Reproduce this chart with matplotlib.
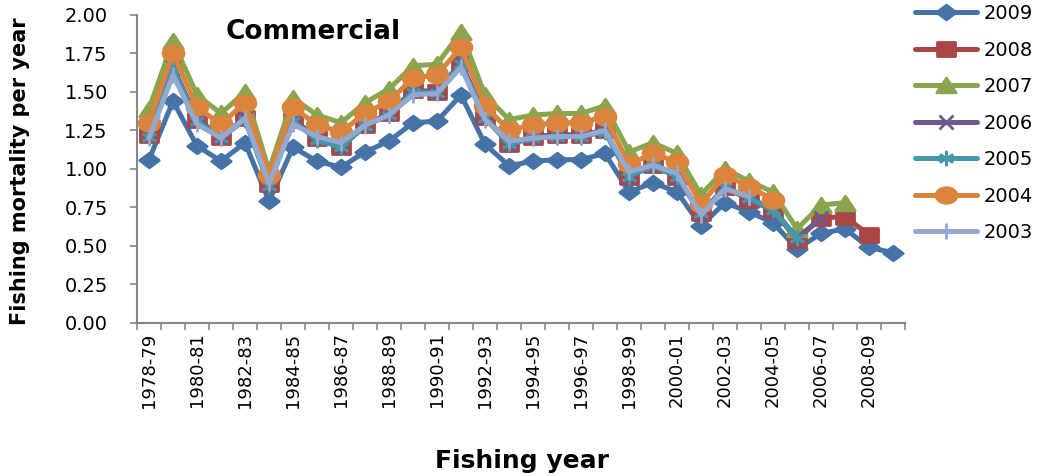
import numpy as np
import matplotlib
matplotlib.use('Agg')
import matplotlib.pyplot as plt
from matplotlib import font_manager
from matplotlib.path import Path

# 渔业年份
years = ['%d-%02d' % (y, (y + 1) % 100) for y in range(1978, 2010)]

# 各评估年份的捕捞死亡率
f_2009 = [1.06, 1.44, 1.15, 1.05, 1.17, 0.79, 1.14, 1.05, 1.01, 1.11, 1.18, 1.30, 1.31, 1.48, 1.16, 1.02,
          1.05, 1.06, 1.06, 1.10, 0.85, 0.91, 0.85, 0.63, 0.78, 0.72, 0.65, 0.48, 0.58, 0.61, 0.49, 0.455]
f_2008 = [1.22, 1.66, 1.32, 1.21, 1.33, 0.90, 1.32, 1.20, 1.14, 1.285, 1.36, 1.51, 1.50, 1.69, 1.34, 1.16,
          1.21, 1.22, 1.22, 1.25, 0.95, 1.025, 0.95, 0.71, 0.88, 0.80, 0.73, 0.54, 0.68, 0.69, 0.57]
f_2007 = [1.39, 1.83, 1.48, 1.36, 1.50, 0.99, 1.46, 1.35, 1.30, 1.43, 1.52, 1.67, 1.68, 1.89, 1.48, 1.32,
          1.35, 1.36, 1.36, 1.41, 1.11, 1.17, 1.10, 0.83, 1.00, 0.92, 0.85, 0.61, 0.765, 0.78]
f_2006 = [1.22, 1.66, 1.32, 1.21, 1.33, 0.90, 1.32, 1.20, 1.14, 1.285, 1.36, 1.51, 1.50, 1.69, 1.34, 1.16,
          1.21, 1.22, 1.22, 1.25, 0.95, 1.025, 0.95, 0.71, 0.88, 0.81, 0.74, 0.55, 0.68]
f_2005 = [1.21, 1.65, 1.31, 1.20, 1.32, 0.89, 1.31, 1.19, 1.14, 1.28, 1.35, 1.50, 1.49, 1.68, 1.33, 1.16,
          1.20, 1.21, 1.21, 1.24, 0.95, 1.02, 0.95, 0.71, 0.88, 0.81, 0.73, 0.55]
f_2004 = [1.30, 1.75, 1.40, 1.29, 1.43, 0.96, 1.40, 1.285, 1.24, 1.36, 1.44, 1.59, 1.61, 1.79, 1.41, 1.25,
          1.285, 1.30, 1.30, 1.34, 1.03, 1.10, 1.045, 0.77, 0.96, 0.885, 0.80]
f_2003 = [1.20, 1.61, 1.29, 1.20, 1.33, 0.905, 1.29, 1.21, 1.17, 1.285, 1.35, 1.48, 1.49, 1.66, 1.32, 1.18,
          1.20, 1.21, 1.21, 1.25, 0.98, 1.025, 0.97, 0.70, 0.87, 0.82]

# 压扁的标记（原图横向拉伸）
sq = 0.75
m_diamond = Path([(-1, 0), (0, sq), (1, 0), (0, -sq), (-1, 0)], closed=True)
m_square = Path([(-1, -sq), (1, -sq), (1, sq), (-1, sq), (-1, -sq)], closed=True)
m_tri = Path([(-1, -sq), (1, -sq), (0, sq), (-1, -sq)], closed=True)
uc = Path.unit_circle()
m_circle = Path(uc.vertices * [1, sq], uc.codes)

series = [
    ('2009', f_2009, '#4572A7', m_diamond, 14),
    ('2008', f_2008, '#AA4643', m_square, 13),
    ('2007', f_2007, '#89A54E', m_tri, 14),
    ('2006', f_2006, '#71588F', 'x', 10),
    ('2005', f_2005, '#4198AF', (6, 2, 0), 11),
    ('2004', f_2004, '#DB843D', m_circle, 15),
    ('2003', f_2003, '#93A9CF', '|', 11),
]

# 找窄体字体
names = {f.name for f in font_manager.fontManager.ttflist}
if 'Liberation Sans Narrow' in names:
    narrow = dict(family='Liberation Sans Narrow')
    xt_size, yl_size = 15, 17
else:
    narrow = dict(family='DejaVu Sans')
    xt_size, yl_size = 13, 15

fig = plt.figure(figsize=(10.41, 4.76), dpi=100)
ax = fig.add_axes([0.1316, 0.322, 0.7378, 0.6465])

for name, vals, col, mk, ms in series:
    x = np.arange(len(vals))
    ax.plot(x, vals, color=col, lw=3.6, marker=mk, ms=ms, mec=col, mfc=col, mew=2, label=name,
            solid_joinstyle='round', solid_capstyle='round')

ax.set_xlim(-0.5, len(years) - 0.5)
ax.set_ylim(0, 2.0)
ax.set_yticks(np.arange(0, 2.01, 0.25))
ax.set_yticklabels(['%.2f' % v for v in np.arange(0, 2.01, 0.25)], fontsize=14)

ax.set_xticks(np.arange(0, len(years), 2))
ax.set_xticklabels(years[::2], rotation=90, fontsize=xt_size, **narrow)
ax.set_xticks(np.arange(-0.5, len(years)), minor=True)
ax.tick_params(axis='x', which='major', length=0, pad=7)
ax.tick_params(axis='x', which='minor', length=5, color='#868686', width=1.2)
ax.tick_params(axis='y', length=5, color='#868686', width=1.2, pad=16)

for s in ['top', 'right']:
    ax.spines[s].set_visible(False)
for s in ['left', 'bottom']:
    ax.spines[s].set_color('#868686')
    ax.spines[s].set_linewidth(1.5)

ax.text(0.2298, 0.921, 'Commercial', transform=ax.transAxes, fontsize=19, fontweight='bold',
        ha='center', va='baseline')
fig.text(20 / 1041, 0.5 + (476 / 2 - 171) / 476, 'Fishing mortality per year', rotation=90,
         fontsize=yl_size, fontweight='bold', ha='center', va='center', **narrow)
fig.text(0.501, 8 / 476, 'Fishing year', fontsize=18, fontweight='bold', ha='center', va='baseline')

fig.legend(loc='upper left', bbox_to_anchor=(0.866, 1.02), frameon=False, fontsize=14,
           handlelength=3.2, handletextpad=0.3, labelspacing=0.9, borderpad=0.2)

fig.savefig('out.png', dpi=100)
